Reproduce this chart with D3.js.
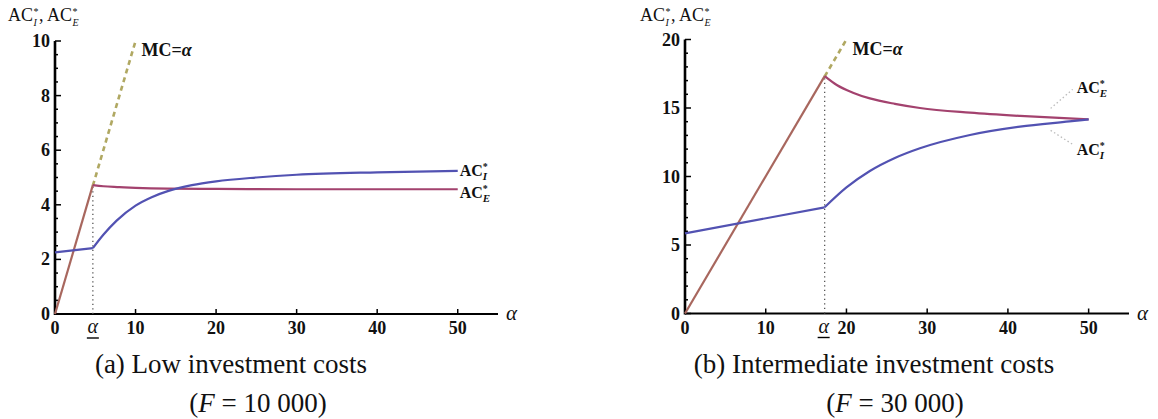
<!DOCTYPE html>
<html><head><meta charset="utf-8">
<script src="https://cdn.jsdelivr.net/npm/d3@7"></script>
<style>
body{margin:0;background:#fff;}
svg{display:block;}
text{font-family:"Liberation Serif","Times New Roman",serif;fill:#111;}
</style></head>
<body><svg id="c" width="1158" height="419"></svg>
<script>
// ---- data ----
// Panel (a): F = 10 000
const alphaBarLow = 4.7;
const alphaLowI = [0, 4.7, 6, 7.65, 10, 12, 14, 17, 20, 25, 30, 40, 50];
const acILow    = [2.26, 2.41, 2.9, 3.42, 3.97, 4.28, 4.5, 4.72, 4.86, 5.0, 5.1, 5.19, 5.24];
const alphaLowE = [0, 4.7, 6, 8, 10, 14, 20, 30, 40, 50];
const acELow    = [0, 4.72, 4.68, 4.65, 4.62, 4.59, 4.58, 4.57, 4.57, 4.57];
const mcLow     = [[4.7, 4.7], [10, 10]];
const yTicksLow = [0, 2, 4, 6, 8, 10];

// Panel (b): F = 30 000
const alphaBarMid = 17.3;
const alphaMidI = [0, 17.3, 20, 22.9, 26, 29.1, 35.3, 41.5, 47.6, 50];
const acIMid    = [5.85, 7.75, 9.2, 10.4, 11.35, 12.06, 13.03, 13.64, 14.02, 14.17];
const alphaMidE = [0, 17.3, 18.8, 20.8, 22.9, 26, 29.1, 35.3, 41.5, 50];
const acEMid    = [0, 17.33, 16.68, 16.12, 15.7, 15.3, 15.0, 14.66, 14.42, 14.17];
const mcMid     = [[17.3, 17.3], [20, 20]];
const yTicksMid = [0, 5, 10, 15, 20];

const xTicks = [0, 10, 20, 30, 40, 50];
const captionA = ["(a) Low investment costs", "10 000"];
const captionB = ["(b) Intermediate investment costs", "30 000"];

// ---- styles ----
const C_I = "#5252b2", C_E = "#a3426e", C_LOW = "#a8675e", C_MC = "#b0a862";
const svg = d3.select("#c");

function panel(o){
  const g = svg.append("g");
  const x = d3.scaleLinear().domain([0, o.xEnd]).range([o.x0, o.x1]);
  const y = d3.scaleLinear().domain([0, o.yMax]).range([o.y0, o.y1]);

  // axes lines
  g.append("line").attr("x1", x(0)).attr("x2", x(o.xEnd)).attr("y1", y(0)).attr("y2", y(0))
    .attr("stroke", "#000").attr("stroke-width", 2.2);
  g.append("line").attr("x1", x(0)).attr("x2", x(0)).attr("y1", y(0) + 1).attr("y2", y(o.yMax))
    .attr("stroke", "#000").attr("stroke-width", 2.6);

  // y ticks (major + minor)
  const minor = d3.range(0, o.yMax + 1e-9, o.minorStep);
  g.selectAll(null).data(minor).join("line")
    .attr("x1", x(0)).attr("x2", d => x(0) + (o.yTicks.includes(+d.toFixed(3)) ? 6 : 3))
    .attr("y1", d => y(d)).attr("y2", d => y(d)).attr("stroke", "#000").attr("stroke-width", 1.5);
  g.selectAll(null).data(o.yTicks).join("text")
    .attr("x", x(0) - 5).attr("y", d => y(d) + 6).attr("text-anchor", "end")
    .attr("font-size", 18).attr("font-weight", "bold").text(d => d);

  // x ticks
  g.selectAll(null).data(xTicks.slice(1)).join("line")
    .attr("x1", d => x(d)).attr("x2", d => x(d)).attr("y1", y(0)).attr("y2", y(0) - 5)
    .attr("stroke", "#000").attr("stroke-width", 1.5);
  g.selectAll(null).data(xTicks).join("text")
    .attr("x", d => x(d)).attr("y", y(0) + 20).attr("text-anchor", "middle")
    .attr("font-size", 18).attr("font-weight", "bold").text(d => d);
  // alpha underbar tick label
  g.append("text").attr("x", x(o.alphaBar) + o.abDx).attr("y", y(0) + 19).attr("text-anchor", "middle")
    .attr("font-size", 20).attr("font-style", "italic").text("α");
  g.append("line").attr("x1", x(o.alphaBar) + o.abDx - 6).attr("x2", x(o.alphaBar) + o.abDx + 6)
    .attr("y1", y(0) + 24).attr("y2", y(0) + 24).attr("stroke", "#000").attr("stroke-width", 1.4);
  // axis names
  g.append("text").attr("x", x(o.xEnd) + 8).attr("y", y(0) + 6).attr("font-size", 21)
    .attr("font-style", "italic").text("α");
  // y axis title with stacked super/subscripts (separate texts, no box overlap)
  const ty = 21;
  function acTitle(px, sub, tail){
    const main = g.append("text").attr("x", px).attr("y", ty).attr("font-size", 18).text("AC");
    const w = main.node().getComputedTextLength();
    g.append("text").attr("x", px + w + 0.5).attr("y", ty - 6.5).attr("font-size", 10).text("*");
    const s = g.append("text").attr("x", px + w + 0.5).attr("y", ty + 5).attr("font-size", 10)
      .attr("font-style", "italic").text(sub);
    const sw = Math.max(s.node().getComputedTextLength(), 5);
    if (tail) g.append("text").attr("x", px + w + sw + 1).attr("y", ty).attr("font-size", 18).text(tail);
    return px + w + sw + 1;
  }
  const nx = acTitle(o.titleX, "I", ",");
  acTitle(nx + 8, "E", null);

  // dotted vertical at alpha bar
  g.append("line").attr("x1", x(o.alphaBar)).attr("x2", x(o.alphaBar)).attr("y1", y(0)).attr("y2", y(o.eAt))
    .attr("stroke", "#555").attr("stroke-width", 1.3).attr("stroke-dasharray", "1.3,3.2");

  const lin = d3.line().x(d => x(d[0])).y(d => y(d[1]));
  const smooth = d3.line().x(d => x(d[0])).y(d => y(d[1])).curve(d3.curveMonotoneX);

  // MC dashed
  g.append("path").attr("d", lin(o.mc)).attr("fill", "none").attr("stroke", C_MC)
    .attr("stroke-width", 2.6).attr("stroke-dasharray", "5,4");

  // AC_E: linear part below alpha bar (coincides with MC), then curve
  const ePts = o.aE.map((a, i) => [a, o.vE[i]]);
  const ek = o.aE.indexOf(o.alphaBar);
  g.append("path").attr("d", lin(ePts.slice(0, ek + 1))).attr("fill", "none").attr("stroke", C_LOW).attr("stroke-width", 2.2);
  g.append("path").attr("d", smooth(ePts.slice(ek))).attr("fill", "none").attr("stroke", C_E).attr("stroke-width", 2.2);

  // AC_I
  const iPts = o.aI.map((a, i) => [a, o.vI[i]]);
  const ik = o.aI.indexOf(o.alphaBar);
  g.append("path").attr("d", lin(iPts.slice(0, ik + 1))).attr("fill", "none").attr("stroke", C_I).attr("stroke-width", 2.2);
  g.append("path").attr("d", smooth(iPts.slice(ik))).attr("fill", "none").attr("stroke", C_I).attr("stroke-width", 2.2);

  // MC label
  const m = g.append("text").attr("x", x(o.mc[1][0]) + 6).attr("y", y(o.mc[1][1]) + 15)
    .attr("font-size", 18).attr("font-weight", "bold");
  m.append("tspan").text("MC=");
  m.append("tspan").attr("font-style", "italic").text("α");

  // series labels
  function acLabel(px, py, sub){
    const l = g.append("text").attr("x", px).attr("y", py).attr("font-size", 16).attr("font-weight", "bold");
    l.append("tspan").text("AC");
    l.append("tspan").attr("font-size", 10).attr("dy", -6).text("*");
    l.append("tspan").attr("font-size", 11).attr("dx", -5).attr("dy", 10).attr("font-style", "italic").text(sub);
  }
  const last = o.aI.length - 1;
  if (o.leaders) {
    const ex = x(o.aI[last]), ey = y(o.vI[last]);
    g.append("line").attr("x1", ex - 38).attr("y1", ey - 11).attr("x2", ex - 16).attr("y2", ey - 30)
      .attr("stroke", "#bbb").attr("stroke-width", 1.3).attr("stroke-dasharray", "1.5,2.5");
    g.append("line").attr("x1", ex - 38).attr("y1", ey + 11).attr("x2", ex - 16).attr("y2", ey + 25)
      .attr("stroke", "#bbb").attr("stroke-width", 1.3).attr("stroke-dasharray", "1.5,2.5");
    acLabel(ex - 12, ey - 26, "E");
    acLabel(ex - 12, ey + 36, "I");
  } else {
    acLabel(x(o.aI[last]) + 2, y(o.vI[last]) + 5, "I");
    acLabel(x(o.aE[o.aE.length - 1]) + 2, y(o.vE[o.vE.length - 1]) + 9, "E");
  }

  // caption
  g.append("text").attr("x", o.capX1).attr("y", 373).attr("text-anchor", "middle").attr("font-size", 27)
    .text(o.cap[0]);
  const c2 = g.append("text").attr("x", o.capX2).attr("y", 412).attr("text-anchor", "middle").attr("font-size", 27);
  c2.append("tspan").text("(");
  c2.append("tspan").attr("font-style", "italic").text("F");
  c2.append("tspan").text(" = " + o.cap[1] + ")");
}

panel({x0: 55, x1: 498, y0: 314, y1: 41, xEnd: 55, yMax: 10, yTicks: yTicksLow, minorStep: 0.5,
  alphaBar: alphaBarLow, abDx: 0, eAt: 4.72, aI: alphaLowI, vI: acILow, aE: alphaLowE, vE: acELow, mc: mcLow,
  titleX: 8, leaders: false, cap: captionA, capX1: 231, capX2: 258});
panel({x0: 685, x1: 1129, y0: 313.5, y1: 39.5, xEnd: 55, yMax: 20, yTicks: yTicksMid, minorStep: 1,
  alphaBar: alphaBarMid, abDx: -1, eAt: 17.33, aI: alphaMidI, vI: acIMid, aE: alphaMidE, vE: acEMid, mc: mcMid,
  titleX: 640, leaders: true, cap: captionB, capX1: 874, capX2: 895});
</script></body></html>
